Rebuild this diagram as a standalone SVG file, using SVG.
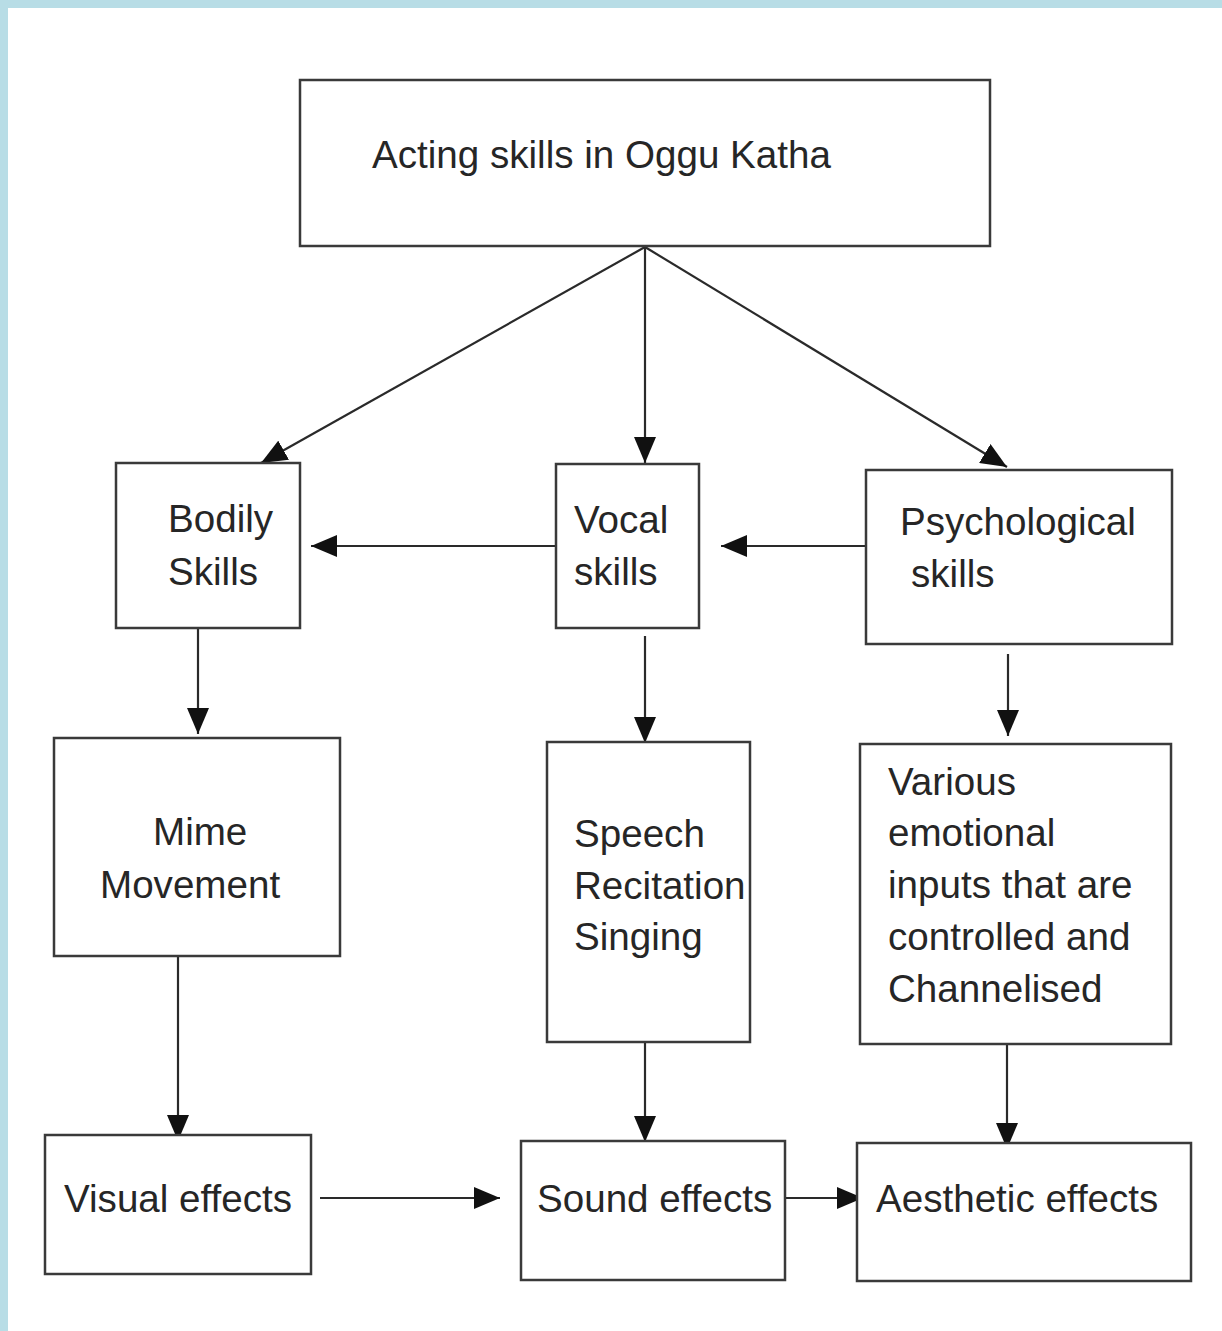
<svg xmlns="http://www.w3.org/2000/svg" width="1222" height="1331" viewBox="0 0 1222 1331">
<style>
.box{fill:#fff;stroke:#3a3a3a;stroke-width:2.5}
.t{font-family:"Liberation Sans",Arial,sans-serif;font-size:38.6px;fill:#262626}
.c{stroke:#2a2a2a;stroke-width:2.2;fill:none;marker-end:url(#ah)}
</style>
<defs>
<marker id="ah" markerUnits="userSpaceOnUse" markerWidth="26" markerHeight="22" refX="26" refY="11" orient="auto">
<path d="M0,0 L26,11 L0,22 z" fill="#111"/>
</marker>
</defs>
<rect x="0" y="0" width="1222" height="1331" fill="#fff"/>
<rect x="0" y="0" width="1222" height="8" fill="#b8dde6"/>
<rect x="0" y="0" width="8" height="1331" fill="#b8dde6"/>
<g id="connectors">
<line class="c" x1="645" y1="247" x2="261" y2="463"/>
<line class="c" x1="645" y1="247" x2="645" y2="463"/>
<line class="c" x1="645" y1="247" x2="1007" y2="467"/>
<line class="c" x1="556" y1="546" x2="311" y2="546"/>
<line class="c" x1="866" y1="546" x2="721" y2="546"/>
<line class="c" x1="198" y1="628" x2="198" y2="734"/>
<line class="c" x1="645" y1="636" x2="645" y2="743"/>
<line class="c" x1="1008" y1="654" x2="1008" y2="736"/>
<line class="c" x1="178" y1="956" x2="178" y2="1141"/>
<line class="c" x1="645" y1="1042" x2="645" y2="1142"/>
<line class="c" x1="1007" y1="1044" x2="1007" y2="1149"/>
<line class="c" x1="320" y1="1198" x2="500" y2="1198"/>
<line class="c" x1="785" y1="1198" x2="863" y2="1198"/>
</g>
<g id="acting">
<rect class="box" x="300" y="80" width="690" height="166"/>
<text class="t" x="372" y="168">Acting skills in Oggu Katha</text>
</g>
<g id="bodily">
<rect class="box" x="116" y="463" width="184" height="165"/>
<text class="t" x="168" y="532">Bodily</text>
<text class="t" x="168" y="585">Skills</text>
</g>
<g id="vocal">
<rect class="box" x="556" y="464" width="143" height="164"/>
<text class="t" x="574" y="533">Vocal</text>
<text class="t" x="574" y="585">skills</text>
</g>
<g id="psych">
<rect class="box" x="866" y="470" width="306" height="174"/>
<text class="t" x="900" y="535">Psychological</text>
<text class="t" x="911" y="587">skills</text>
</g>
<g id="mime">
<rect class="box" x="54" y="738" width="286" height="218"/>
<text class="t" x="153" y="845">Mime</text>
<text class="t" x="100" y="898">Movement</text>
</g>
<g id="speech">
<rect class="box" x="547" y="742" width="203" height="300"/>
<text class="t" x="574" y="847">Speech</text>
<text class="t" x="574" y="899">Recitation</text>
<text class="t" x="574" y="950">Singing</text>
</g>
<g id="various">
<rect class="box" x="860" y="744" width="311" height="300"/>
<text class="t" x="888" y="795">Various</text>
<text class="t" x="888" y="846">emotional</text>
<text class="t" x="888" y="898">inputs that are</text>
<text class="t" x="888" y="950">controlled and</text>
<text class="t" x="888" y="1002">Channelised</text>
</g>
<g id="visual">
<rect class="box" x="45" y="1135" width="266" height="139"/>
<text class="t" x="64" y="1212">Visual effects</text>
</g>
<g id="sound">
<rect class="box" x="521" y="1141" width="264" height="139"/>
<text class="t" x="537" y="1212">Sound effects</text>
</g>
<g id="aesthetic">
<rect class="box" x="857" y="1143" width="334" height="138"/>
<text class="t" x="876" y="1212">Aesthetic effects</text>
</g>
</svg>
